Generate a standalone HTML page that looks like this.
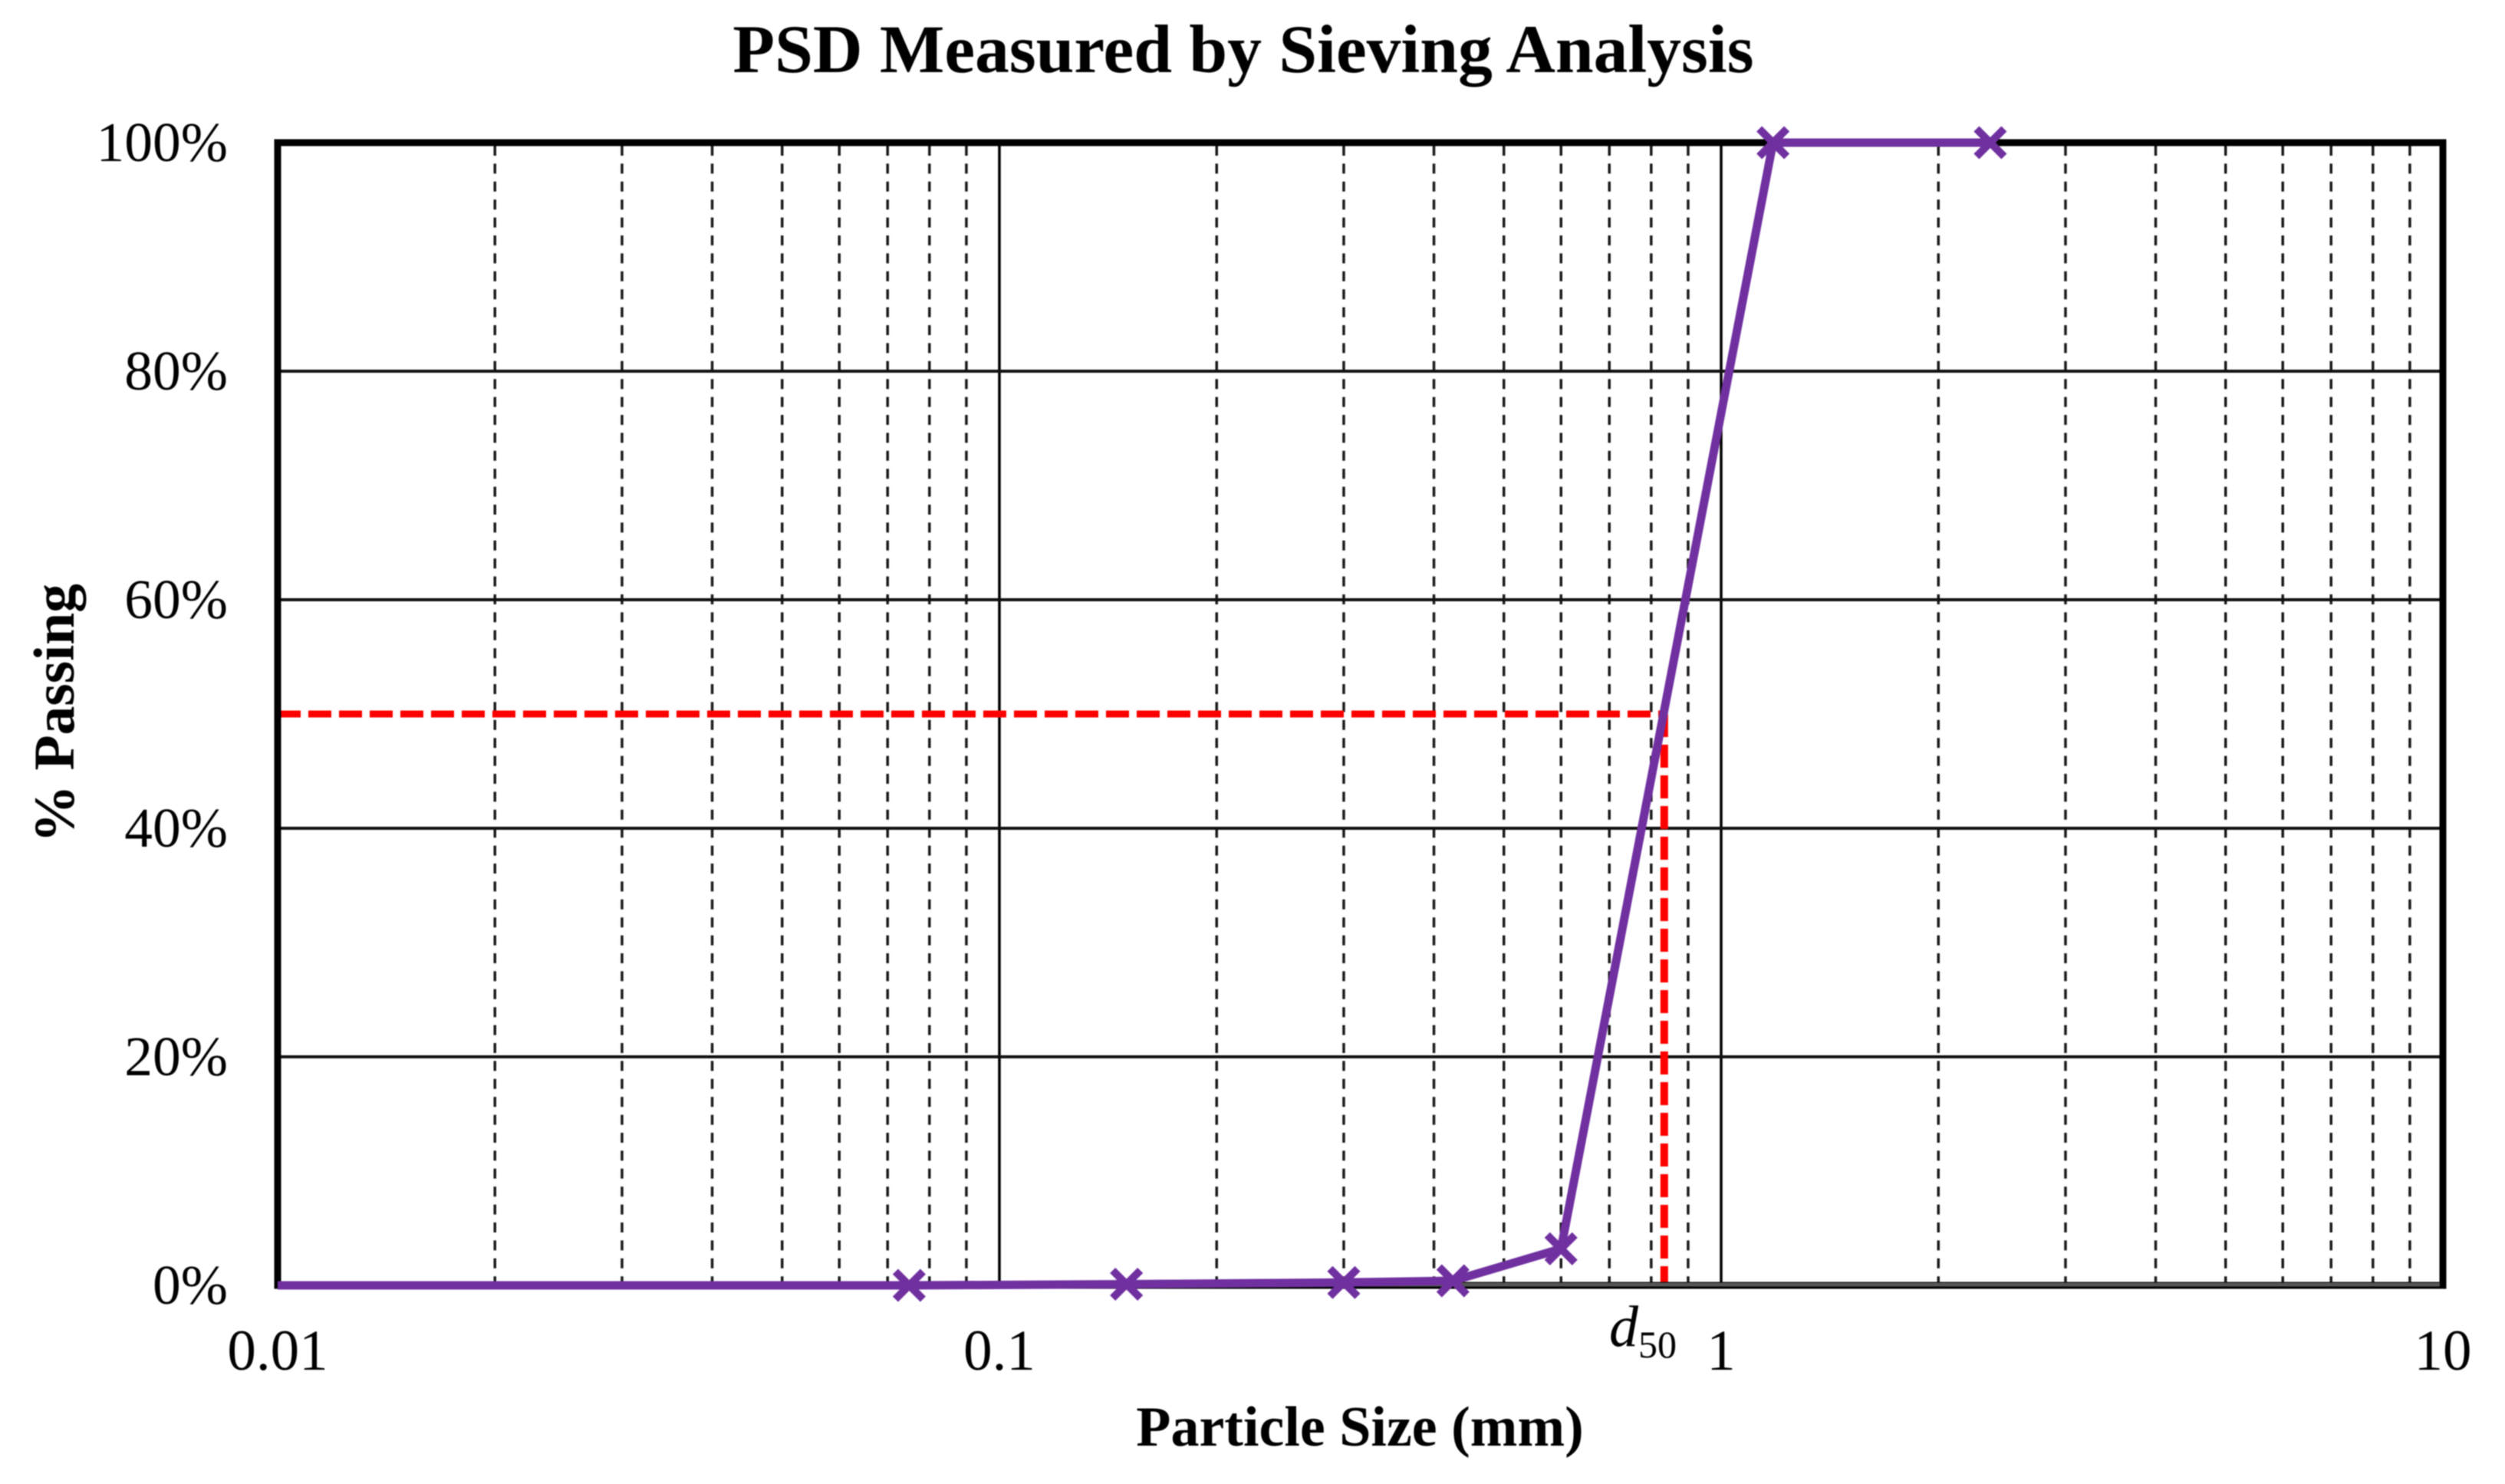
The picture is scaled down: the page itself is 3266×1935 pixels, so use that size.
<!DOCTYPE html>
<html lang="en">
<head>
<meta charset="utf-8">
<title>PSD Measured by Sieving Analysis</title>
<style>
  html, body { margin: 0; padding: 0; background: #fff; }
  body { width: 3266px; height: 1935px; overflow: hidden; }
  svg { display: block; filter: blur(0.8px); }
  text { font-family: "Liberation Serif", serif; fill: #000; }
</style>
</head>
<body>
<svg id="chart" xmlns="http://www.w3.org/2000/svg" width="3266" height="1935" viewBox="0 0 3266 1935">
  <rect width="3266" height="1935" fill="#fff"></rect>
  <text x="1621" y="94" text-anchor="middle" font-size="89.5" font-weight="bold">PSD Measured by Sieving Analysis</text>
  <text x="1773" y="1885" text-anchor="middle" font-size="74" font-weight="bold">Particle Size (mm)</text>
  <text transform="translate(96 930) rotate(-90)" text-anchor="middle" font-size="75.5" font-weight="bold">% Passing</text>
  <g id="grid"></g>
  <g id="refs"></g>
  <g id="frame"></g>
  <g id="series"></g>
  <g id="labels"></g>
  <text id="d50" y="1755" font-size="76" font-style="italic">d<tspan dy="15" font-size="50" dx="0" font-style="normal">50</tspan></text>
</svg>
<script>
// Chart data
var xMajorTicks = [0.01, 0.1, 1, 10];
var xTickLabels = ["0.01", "0.1", "1", "10"];
var xMinorTicks = [0.02, 0.03, 0.04, 0.05, 0.06, 0.07, 0.08, 0.09, 0.2, 0.3, 0.4, 0.5, 0.6, 0.7, 0.8, 0.9, 2, 3, 4, 5, 6, 7, 8, 9];
var yTicks = [0, 20, 40, 60, 80, 100];
var yTickLabels = ["0%", "20%", "40%", "60%", "80%", "100%"];
var particleSizes = [0.01, 0.075, 0.15, 0.3, 0.425, 0.6, 1.18, 2.36];
var percentPassing = [0, 0, 0.1, 0.25, 0.4, 3.2, 100, 100];
var markedPoints = [false, true, true, true, true, true, true, true];
var d50Size = [0.834];
var d50Passing = [50];

var NS = "http://www.w3.org/2000/svg";
var plotLeft = 362, plotRight = 3185, plotTop = 186, plotBottom = 1676;
function xScale(v) {
  return plotLeft + (Math.log10(v) + 2) / 3 * (plotRight - plotLeft);
}
function yScale(v) {
  return plotBottom - v / 100 * (plotBottom - plotTop);
}
function makeLine(parent, x1, y1, x2, y2, stroke, width, dash) {
  var el = document.createElementNS(NS, "line");
  el.setAttribute("x1", x1);
  el.setAttribute("y1", y1);
  el.setAttribute("x2", x2);
  el.setAttribute("y2", y2);
  el.setAttribute("stroke", stroke);
  el.setAttribute("stroke-width", width);
  if (dash) el.setAttribute("stroke-dasharray", dash);
  parent.appendChild(el);
  return el;
}
function makeText(parent, x, y, str, anchor, size) {
  var el = document.createElementNS(NS, "text");
  el.setAttribute("x", x);
  el.setAttribute("y", y);
  el.setAttribute("text-anchor", anchor);
  el.setAttribute("font-size", size);
  el.textContent = str;
  parent.appendChild(el);
  return el;
}

var grid = document.getElementById("grid");
var refs = document.getElementById("refs");
var frame = document.getElementById("frame");
var seriesGroup = document.getElementById("series");
var labels = document.getElementById("labels");

xMinorTicks.forEach(function (t) {
  var el = makeLine(grid, xScale(t), plotTop + 4, xScale(t), plotBottom, "#1a1a1a", 3.5, "13 10.4");
  
  
});
xMajorTicks.forEach(function (t, i) {
  var el = makeLine(grid, xScale(t), plotTop, xScale(t), plotBottom, "#000", 3.5);
  
  
  var lab = makeText(labels, xScale(t), 1786, xTickLabels[i], "middle", 75);
  
  
});
yTicks.forEach(function (t, i) {
  var el = makeLine(grid, plotLeft, yScale(t), plotRight, yScale(t), "#111", 4);
  
  
  var lab = makeText(labels, 297, yScale(t) + 24, yTickLabels[i], "end", 73.5);
  
  
});

var hRef = makeLine(refs, plotLeft, yScale(d50Passing[0]), xScale(d50Size[0]), yScale(d50Passing[0]), "#ff0000", 9, "30 10");


var vRef = makeLine(refs, xScale(d50Size[0]), yScale(d50Passing[0]), xScale(d50Size[0]), plotBottom, "#ff0000", 10, "30 10");



var border = document.createElementNS(NS, "rect");
border.setAttribute("x", plotLeft);
border.setAttribute("y", plotTop);
border.setAttribute("width", plotRight - plotLeft);
border.setAttribute("height", plotBottom - plotTop);
border.setAttribute("fill", "none");
border.setAttribute("stroke", "#000");
border.setAttribute("stroke-width", 9);


frame.appendChild(border);
var baseShade = makeLine(frame, plotLeft + 4, plotBottom - 1, plotRight - 4, plotBottom - 1, "#555", 5);



var polyPoints = particleSizes.map(function (s, i) {
  return xScale(s) + "," + yScale(percentPassing[i]);
}).join(" ");
var curve = document.createElementNS(NS, "polyline");
curve.setAttribute("points", polyPoints);
curve.setAttribute("fill", "none");
curve.setAttribute("stroke", "#7030a0");
curve.setAttribute("stroke-width", 11);
curve.setAttribute("stroke-linejoin", "round");


seriesGroup.appendChild(curve);

var markerHalf = 18;
particleSizes.forEach(function (s, i) {
  if (!markedPoints[i]) return;
  var cx = xScale(s), cy = yScale(percentPassing[i]);
  var g = document.createElementNS(NS, "g");
  
  
  seriesGroup.appendChild(g);
  makeLine(g, cx - markerHalf, cy - markerHalf, cx + markerHalf, cy + markerHalf, "#7030a0", 10);
  makeLine(g, cx - markerHalf, cy + markerHalf, cx + markerHalf, cy - markerHalf, "#7030a0", 10);
});

document.getElementById("d50").setAttribute("x", 2098);
</script>
</body>
</html>
